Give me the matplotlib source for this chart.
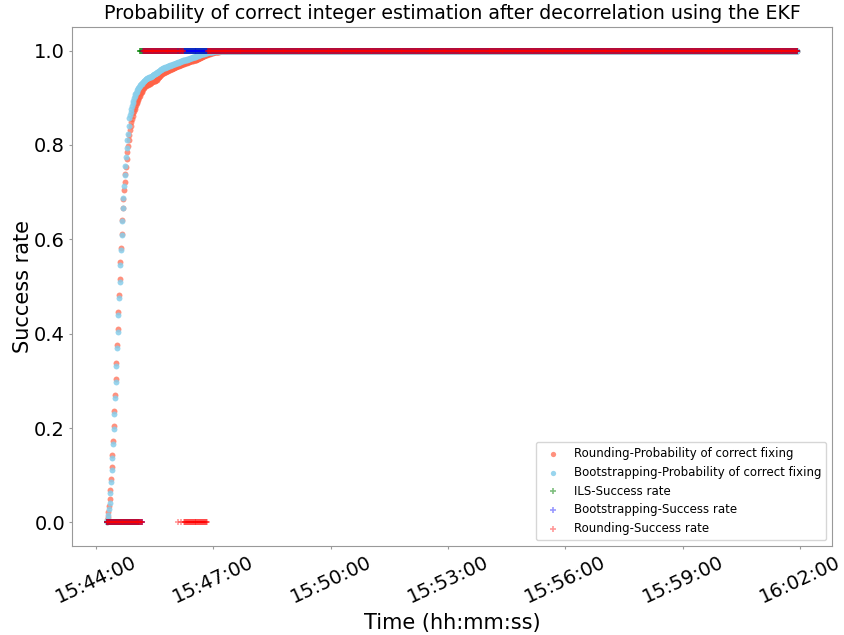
import matplotlib
matplotlib.use("Agg")
import matplotlib.pyplot as plt
import matplotlib.dates as mdates
import numpy as np
import pandas as pd

# ---------------- data ----------------
start_time = "2020-01-01 15:44:16"
end_offset_s = 1060          # last epoch 16:01:56
plateau_value = 1.0

# Probability of correct fixing, 1 s epochs from start_time (then plateau at 1.0)
bootstrap_prob = [
    0.000, 0.003, 0.008, 0.016, 0.028, 0.042, 0.062, 0.085, 0.110, 0.136,
    0.166, 0.197, 0.229, 0.263, 0.297, 0.331, 0.369, 0.403, 0.439, 0.476,
    0.510, 0.546, 0.577, 0.609, 0.639, 0.667, 0.688, 0.713, 0.737, 0.756,
    0.775, 0.794, 0.811, 0.824, 0.841, 0.858, 0.864, 0.870, 0.876, 0.883,
    0.889, 0.894, 0.899, 0.903, 0.907, 0.910, 0.913, 0.916, 0.919, 0.921,
    0.923, 0.925, 0.927, 0.929, 0.930, 0.932, 0.933, 0.935, 0.936, 0.938,
    0.939, 0.940, 0.941, 0.941, 0.942, 0.943, 0.944, 0.944, 0.945, 0.946,
    0.947, 0.948, 0.949, 0.950, 0.951, 0.951, 0.952, 0.953, 0.954, 0.955,
    0.956, 0.957, 0.958, 0.959, 0.960, 0.962, 0.963, 0.963, 0.964, 0.964,
    0.965, 0.965, 0.966, 0.966, 0.967, 0.967, 0.968, 0.968, 0.969, 0.969,
    0.970, 0.970, 0.971, 0.971, 0.972, 0.972, 0.973, 0.973, 0.974, 0.974,
    0.975, 0.975, 0.976, 0.976, 0.977, 0.977, 0.978, 0.978, 0.979, 0.979,
    0.980, 0.980, 0.981, 0.981, 0.982, 0.982, 0.983, 0.983, 0.984, 0.984,
    0.985, 0.985, 0.986, 0.986, 0.986, 0.987, 0.987, 0.988, 0.988, 0.989,
    0.989, 0.990, 0.990, 0.991, 0.991, 0.992, 0.992, 0.993, 0.993, 0.993,
    0.994, 0.994, 0.995, 0.995, 0.995, 0.996, 0.996, 0.996, 0.997, 0.997,
    0.997, 0.998, 0.998, 0.998, 0.999, 0.999,
]
rounding_prob = [
    0.000, 0.005, 0.011, 0.021, 0.034, 0.049, 0.069, 0.092, 0.117, 0.143,
    0.173, 0.204, 0.236, 0.270, 0.304, 0.338, 0.375, 0.409, 0.445, 0.482,
    0.516, 0.551, 0.582, 0.612, 0.640, 0.666, 0.686, 0.705, 0.722, 0.738,
    0.754, 0.770, 0.784, 0.797, 0.810, 0.822, 0.832, 0.841, 0.849, 0.856,
    0.862, 0.867, 0.872, 0.877, 0.881, 0.885, 0.889, 0.892, 0.895, 0.898,
    0.901, 0.904, 0.907, 0.910, 0.913, 0.915, 0.918, 0.920, 0.922, 0.924,
    0.925, 0.926, 0.927, 0.928, 0.929, 0.930, 0.930, 0.931, 0.932, 0.933,
    0.934, 0.935, 0.936, 0.936, 0.935, 0.936, 0.937, 0.938, 0.940, 0.942,
    0.944, 0.945, 0.947, 0.948, 0.950, 0.951, 0.952, 0.953, 0.953, 0.954,
    0.955, 0.955, 0.956, 0.957, 0.957, 0.958, 0.959, 0.959, 0.960, 0.961,
    0.961, 0.962, 0.963, 0.963, 0.964, 0.965, 0.965, 0.966, 0.967, 0.967,
    0.968, 0.968, 0.969, 0.969, 0.970, 0.970, 0.971, 0.971, 0.972, 0.972,
    0.973, 0.973, 0.974, 0.974, 0.975, 0.975, 0.976, 0.976, 0.977, 0.977,
    0.978, 0.978, 0.978, 0.979, 0.979, 0.980, 0.980, 0.981, 0.981, 0.982,
    0.983, 0.983, 0.984, 0.985, 0.985, 0.986, 0.987, 0.987, 0.988, 0.989,
    0.989, 0.990, 0.990, 0.991, 0.991, 0.992, 0.992, 0.993, 0.993, 0.994,
    0.994, 0.995, 0.995, 0.995, 0.996, 0.996, 0.996, 0.997, 0.997, 0.997,
    0.998, 0.998, 0.998, 0.999, 0.999, 0.999,
]

# Success rates as runs: (first second, last second, value)
ils_run_start = [0, 51]
ils_run_end = [50, 1060]
ils_run_value = [0, 1]

boot_run_start = [0, 56]
boot_run_end = [55, 1060]
boot_run_value = [0, 1]

round_run_start = [0, 56, 110, 111, 114, 115, 119, 155]
round_run_end = [55, 109, 110, 113, 114, 118, 154, 1060]
round_run_value = [0, 1, 0, 1, 0, 1, 0, 1]

labels = [
    "Rounding-Probability of correct fixing",
    "Bootstrapping-Probability of correct fixing",
    "ILS-Success rate",
    "Bootstrapping-Success rate",
    "Rounding-Success rate",
]

# ---------------- helpers ----------------
t0 = pd.Timestamp(start_time)
all_secs = np.arange(0, end_offset_s + 1)


def prob_series(values):
    vals = list(values) + [plateau_value] * (len(all_secs) - len(values))
    return np.array(vals)


def run_series(starts, ends, vals):
    secs, out = [], []
    for s, e, v in zip(starts, ends, vals):
        for k in range(s, e + 1):
            secs.append(k)
            out.append(v)
    return np.array(secs), np.array(out, dtype=float)


def to_time(secs):
    return t0 + pd.to_timedelta(secs, unit="s")


# ---------------- figure ----------------
fig = plt.figure(figsize=(8.44, 6.35), dpi=100)
ax = fig.add_axes([0.0853, 0.1402, 0.9005, 0.8173])

ax.scatter(to_time(all_secs), prob_series(rounding_prob), s=18, color="tomato",
           alpha=0.7, linewidths=0, label=labels[0])
ax.scatter(to_time(all_secs), prob_series(bootstrap_prob), s=18, color="skyblue",
           alpha=0.85, linewidths=0, label=labels[1])

s_, v_ = run_series(ils_run_start, ils_run_end, ils_run_value)
ax.scatter(to_time(s_), v_, s=20, marker="+", color="green", alpha=0.5,
           linewidths=1.2, label=labels[2])
s_, v_ = run_series(boot_run_start, boot_run_end, boot_run_value)
ax.scatter(to_time(s_), v_, s=20, marker="+", color="blue", alpha=0.4,
           linewidths=1.2, label=labels[3])
s_, v_ = run_series(round_run_start, round_run_end, round_run_value)
ax.scatter(to_time(s_), v_, s=20, marker="+", color="red", alpha=0.4,
           linewidths=1.2, label=labels[4])

ax.set_title("Probability of correct integer estimation after decorrelation using the EKF",
             fontsize=13.7)
ax.set_xlabel("Time (hh:mm:ss)", fontsize=15)
ax.set_ylabel("Success rate", fontsize=15, labelpad=1)

ax.xaxis.set_major_locator(mdates.MinuteLocator(byminute=list(range(2, 60, 3))))
ax.xaxis.set_major_formatter(mdates.DateFormatter("%H:%M:%S"))
ax.set_yticks([0.0, 0.2, 0.4, 0.6, 0.8, 1.0])
ax.tick_params(axis="both", labelsize=14, colors="#999999", labelcolor="black",
               length=2, pad=3)
for lab in ax.get_xticklabels():
    lab.set_rotation(25)
for sp in ax.spines.values():
    sp.set_color("#999999")

ax.legend(loc="lower right", fontsize=8.5, markerscale=0.9)

fig.savefig("out.png", dpi=100)
